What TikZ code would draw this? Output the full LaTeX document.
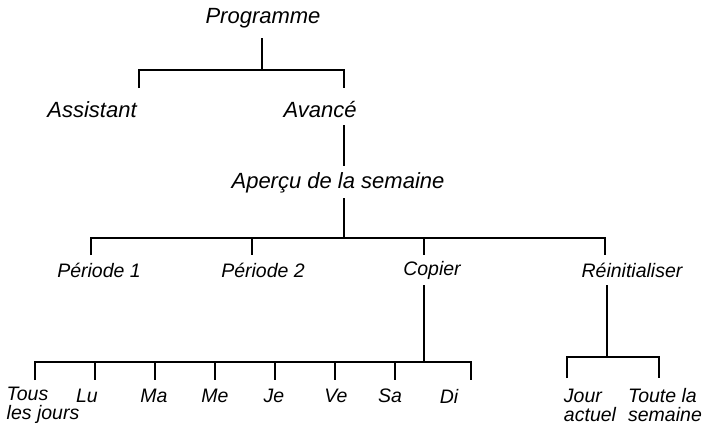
\documentclass[tikz,border=0pt]{standalone}
\usepackage{fontspec}
\setmainfont{Liberation Sans}
\usetikzlibrary{positioning}
\tikzset{
  big/.style={font=\itshape\fontsize{22}{24}\selectfont},
  small/.style={font=\itshape\fontsize{19.5}{19}\selectfont, align=left, inner sep=0pt},
  branch/.style={line width=1.1pt},
}
\begin{document}
\begin{tikzpicture}[x=1pt,y=-1pt]
    \useasboundingbox (0,0) rectangle (706,442);
    % labels
    \node[big] (prog) at (263,18) {Programme};
    \node[big] (assist) at (92,110) {Assistant};
    \node[big] (avance) at (320,110) {Avancé};
    \node[big] (apercu) at (338,183) {Aperçu de la semaine};
    \node[small] (per1) at (99,270) {Période 1};
    \node[small] (per2) at (263,270) {Période 2};
    \node[small] (copier) at (432,270) {Copier};
    \node[small] (reinit) at (632,270) {Réinitialiser};
    \node[small] (tous) at (43,405) {Tous\\les jours};
    \node[small] (lu) at (87,396) {Lu};
    \node[small] (ma) at (154,396) {Ma};
    \node[small] (me) at (215,396) {Me};
    \node[small] (je) at (274,396) {Je};
    \node[small] (ve) at (336,396) {Ve};
    \node[small] (sa) at (390,396) {Sa};
    \node[small] (di) at (449,396) {Di};
    \node[small] (jour) at (590,405) {Jour\\actuel};
    \node[small] (toute) at (665,405) {Toute la\\semaine};
    % tree lines
    \coordinate (p0) at (262,38);
    \coordinate (p1) at (262,70);
    \coordinate (a1) at (344,125);
    \coordinate (a2) at (344,166);
    \coordinate (b0) at (344,198);
    \coordinate (b1) at (344,238);
    \coordinate (c0) at (424,285);
    \coordinate (c1) at (424,362);
    \coordinate (r0) at (607,285);
    \coordinate (r1) at (607,357);
    \draw[branch] (p0) -- (p1);
    \draw[branch] (139,88) |- (p1) -| (344,88);
    \draw[branch] (a1) -- (a2);
    \draw[branch] (b0) -- (b1);
    \draw[branch] (91,255) |- (b1) -| (605,255);
    \foreach \x in {252,424}
      \draw[branch] (\x,238) -- (\x,255);
    \draw[branch] (c0) -- (c1);
    \draw[branch] (35,380) |- (c1) -| (471,380);
    \foreach \x in {95,155,215,275,335,395}
      \draw[branch] (\x,362) -- (\x,380);
    \draw[branch] (r0) -- (r1);
    \draw[branch] (567,378) |- (r1) -| (659,378);
\end{tikzpicture}
\end{document}
